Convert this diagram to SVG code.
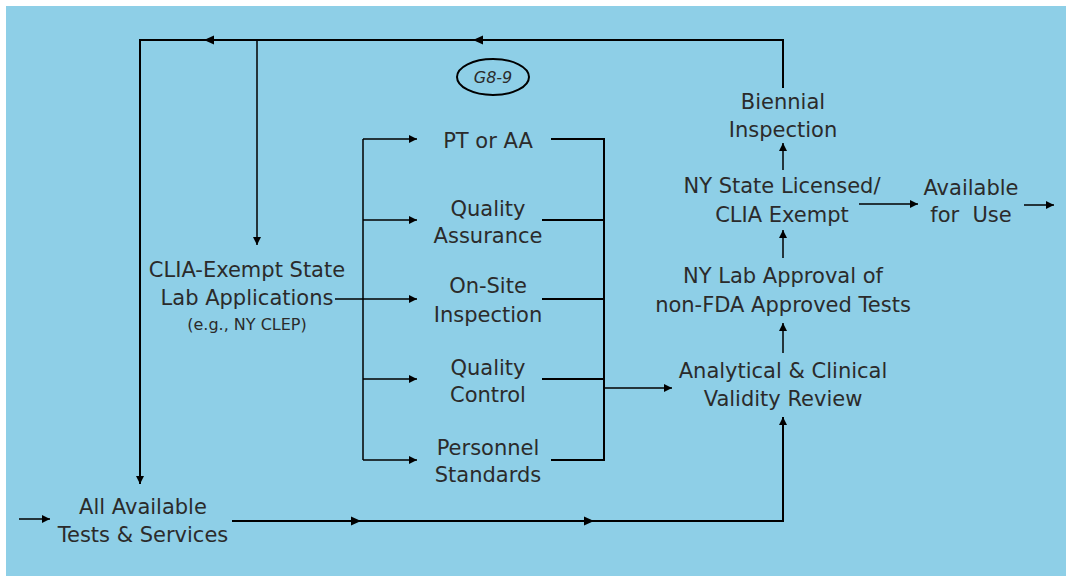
<svg xmlns="http://www.w3.org/2000/svg" width="1066" height="576" viewBox="0 0 1066 576">
<defs>
<style>
.t{font-family:"DejaVu Sans","Liberation Sans",sans-serif;font-size:21px;fill:#2b2b2b;text-anchor:middle}
.s{font-size:16px}
.ln{fill:none;stroke:#000;stroke-width:2}
.th{fill:none;stroke:#000;stroke-width:1.5}
.ah{fill:#000}
</style>
<marker id="arr" viewBox="0 0 10 10" refX="10" refY="5" markerWidth="10" markerHeight="8" markerUnits="userSpaceOnUse" orient="auto"><path d="M0,0 L10,5 L0,10 Z" fill="#000"/></marker>
</defs>
<rect x="6" y="6" width="1060" height="570" fill="#8ecfe7"/>
<g id="connectors">
<polyline class="ln" points="783,88 783,40 140,40 140,484" marker-end="url(#arr)"/>
<polygon class="ah" points="473,40 483,35.5 483,44.5"/>
<polygon class="ah" points="204,40 214,35.5 214,44.5"/>
<line class="th" x1="257" y1="40" x2="257" y2="245" marker-end="url(#arr)"/>
<line class="th" x1="335" y1="299" x2="417" y2="299" marker-end="url(#arr)"/>
<line class="th" x1="363" y1="139" x2="363" y2="460"/>
<line class="th" x1="363" y1="139" x2="417" y2="139" marker-end="url(#arr)"/>
<line class="th" x1="363" y1="220" x2="417" y2="220" marker-end="url(#arr)"/>
<line class="th" x1="363" y1="379" x2="417" y2="379" marker-end="url(#arr)"/>
<line class="th" x1="363" y1="460" x2="417" y2="460" marker-end="url(#arr)"/>
<polyline class="ln" points="551,139 604,139 604,460 551,460"/>
<line class="ln" x1="542" y1="220" x2="604" y2="220"/>
<line class="ln" x1="542" y1="299" x2="604" y2="299"/>
<line class="ln" x1="542" y1="379" x2="604" y2="379"/>
<line class="th" x1="604" y1="388" x2="672" y2="388" marker-end="url(#arr)"/>
<line class="th" x1="19" y1="519" x2="50" y2="519" marker-end="url(#arr)"/>
<polyline class="ln" points="232,521 783,521 783,417" marker-end="url(#arr)"/>
<polygon class="ah" points="361,521 351,516.5 351,525.5"/>
<polygon class="ah" points="594,521 584,516.5 584,525.5"/>
<line class="th" x1="783" y1="353" x2="783" y2="323" marker-end="url(#arr)"/>
<line class="th" x1="783" y1="258" x2="783" y2="230" marker-end="url(#arr)"/>
<line class="th" x1="783" y1="170" x2="783" y2="143" marker-end="url(#arr)"/>
<line class="th" x1="859" y1="204" x2="918" y2="204" marker-end="url(#arr)"/>
<line class="th" x1="1024" y1="205" x2="1054" y2="205" marker-end="url(#arr)"/>
</g>
<g id="g89">
<ellipse cx="493" cy="77" rx="36" ry="18" fill="none" stroke="#000" stroke-width="2"/>
<text class="t" x="493" y="83" style="font-size:16px;font-style:italic">G8-9</text>
</g>
<g id="biennial"><text class="t" x="783" y="109">Biennial</text><text class="t" x="783" y="137">Inspection</text></g>
<g id="nystate"><text class="t" x="782" y="193">NY State Licensed/</text><text class="t" x="782" y="222">CLIA Exempt</text></g>
<g id="available"><text class="t" x="971" y="195">Available</text><text class="t" x="971" y="222" style="white-space:pre">for  Use</text></g>
<g id="nylab"><text class="t" x="783" y="283">NY Lab Approval of</text><text class="t" x="783" y="312">non-FDA Approved Tests</text></g>
<g id="analytical"><text class="t" x="783" y="378">Analytical &amp; Clinical</text><text class="t" x="783" y="406">Validity Review</text></g>
<g id="clia"><text class="t" x="247" y="277">CLIA-Exempt State</text><text class="t" x="247" y="305">Lab Applications</text><text class="t s" x="247" y="330">(e.g., NY CLEP)</text></g>
<g id="pt"><text class="t" x="488" y="148">PT or AA</text></g>
<g id="qa"><text class="t" x="488" y="216">Quality</text><text class="t" x="488" y="243">Assurance</text></g>
<g id="onsite"><text class="t" x="488" y="293">On-Site</text><text class="t" x="488" y="322">Inspection</text></g>
<g id="qc"><text class="t" x="488" y="375">Quality</text><text class="t" x="488" y="402">Control</text></g>
<g id="personnel"><text class="t" x="488" y="455">Personnel</text><text class="t" x="488" y="482">Standards</text></g>
<g id="alltests"><text class="t" x="143" y="514">All Available</text><text class="t" x="143" y="542">Tests &amp; Services</text></g>
</svg>
